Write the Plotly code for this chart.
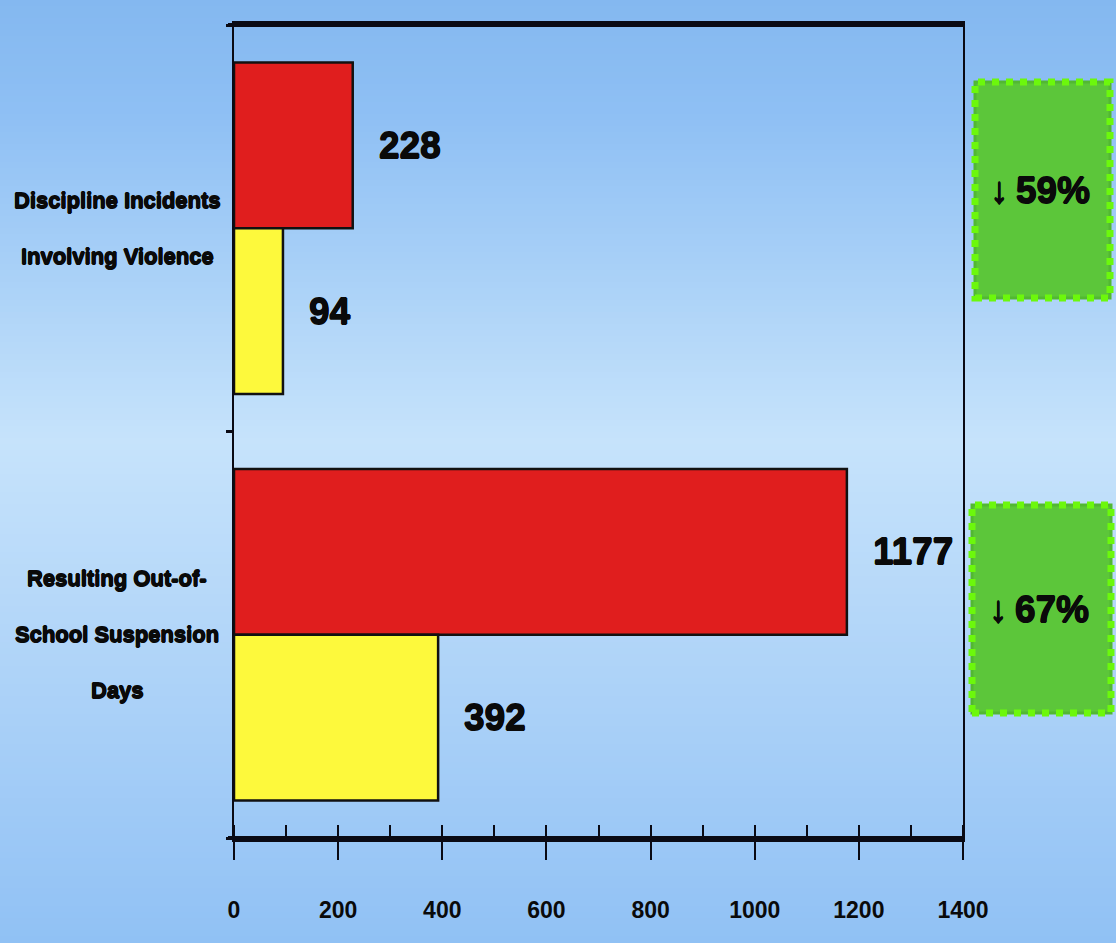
import plotly.graph_objects as go

# ---- data -------------------------------------------------------------
categories = ["Discipline Incidents<br>Involving Violence",
              "Resulting Out-of-<br>School Suspension<br>Days"]
label_lines = [["Discipline Incidents", "Involving Violence"],
               ["Resulting Out-of-", "School Suspension", "Days"]]
before_vals = [228, 1177]
after_vals = [94, 392]
change_labels = ["\u2193\u200959%", "\u2193\u200967%"]
x_tick_vals = [0, 200, 400, 600, 800, 1000, 1200, 1400]

# ---- styling ----------------------------------------------------------
W, H = 1116, 943
L, R, T, B = 234, 153, 25, 105
PW, PH = W - L - R, H - T - B
FONT = "Liberation Sans, Arial, Helvetica, sans-serif"
INK = "#0a0a0a"
AXIS = "#0a0a14"
# a thin outline around the glyphs makes the bold text look heavier
HEAVY = ("0.6px 0 0 #0a0a0a, -0.6px 0 0 #0a0a0a, "
         "0 0.6px 0 #0a0a0a, 0 -0.6px 0 #0a0a0a")
RED, YELLOW = "#e01e1e", "#fdf93c"
BARGAP = 0.185


def px_to_paper_x(px):
    return (px - L) / PW


def px_to_paper_y(py):
    return (H - B - py) / PH


def lerp_color(stops, y):
    for (y0, c0), (y1, c1) in zip(stops, stops[1:]):
        if y0 <= y <= y1:
            t = (y - y0) / (y1 - y0) if y1 > y0 else 0
            return "rgb(%d,%d,%d)" % tuple(round(a + (b - a) * t) for a, b in zip(c0, c1))
    return "rgb(%d,%d,%d)" % stops[-1][1]


def heavy_font(size):
    return dict(family=FONT, size=size, color=INK, shadow=HEAVY)


# vertical background gradient (pixel row -> colour)
bg_stops = [(0, (132, 184, 240)), (120, (143, 192, 244)), (440, (198, 227, 251)),
            (600, (182, 216, 249)), (838, (156, 200, 246)), (943, (144, 193, 244))]

shapes = []
STEP = 6
for y0 in range(0, H, STEP):
    y1 = min(H, y0 + STEP + 1)
    shapes.append(dict(type="rect", xref="paper", yref="paper", layer="below",
                       x0=px_to_paper_x(0), x1=px_to_paper_x(W),
                       y0=px_to_paper_y(y1), y1=px_to_paper_y(y0),
                       line=dict(width=0),
                       fillcolor=lerp_color(bg_stops, y0 + STEP / 2)))

# heavy frame lines along the bottom and top of the plot area
for yy in (0, 1):
    shapes.append(dict(type="line", xref="paper", yref="paper", layer="above",
                       x0=px_to_paper_x(L - 6), x1=1, y0=yy, y1=yy,
                       line=dict(color=AXIS, width=4)))

# green percentage badges to the right of the plot
badges = [(975, 82, 1110, 298), (972, 505, 1111, 713)]
annotations = []
for (bx0, by0, bx1, by1), txt in zip(badges, change_labels):
    box = dict(xref="paper", yref="paper", type="rect",
               x0=px_to_paper_x(bx0), x1=px_to_paper_x(bx1),
               y0=px_to_paper_y(by1), y1=px_to_paper_y(by0))
    shapes.append(dict(box, fillcolor="#5cc63a", line=dict(color="#52b832", width=3)))
    shapes.append(dict(box, fillcolor="rgba(0,0,0,0)",
                       line=dict(color="#6cf80c", width=7, dash="dot")))
    annotations.append(dict(xref="paper", yref="paper",
                            x=px_to_paper_x((bx0 + bx1) / 2 - 3), y=px_to_paper_y((by0 + by1) / 2),
                            xanchor="center", yanchor="middle",
                            text="<b>%s</b>" % txt, showarrow=False,
                            font=heavy_font(37)))

# category labels, one annotation per line for wide line spacing
LINE_GAP = 56
for ci, lines in enumerate(label_lines):
    n = len(lines)
    for li, line in enumerate(lines):
        annotations.append(dict(xref="paper", yref="y", x=px_to_paper_x(117), y=ci,
                                yshift=((n - 1) / 2 - li) * LINE_GAP,
                                text="<b>%s</b>" % line, showarrow=False,
                                xanchor="center", yanchor="middle",
                                font=heavy_font(22)))

# value labels right of each bar end
half = (1 - BARGAP) / 4
for ci in range(len(categories)):
    for val, off in ((before_vals[ci], -half), (after_vals[ci], half)):
        annotations.append(dict(xref="x", yref="y", x=val, y=ci + off,
                                text="<b>%d</b>" % val, showarrow=False,
                                xanchor="left", yanchor="middle", xshift=24,
                                font=heavy_font(37)))

fig = go.Figure()
cat_idx = list(range(len(categories)))
fig.add_trace(go.Bar(name="Before", y=cat_idx, x=before_vals, orientation="h",
                     marker=dict(color=RED, line=dict(color="#111111", width=2.5))))
fig.add_trace(go.Bar(name="After", y=cat_idx, x=after_vals, orientation="h",
                     marker=dict(color=YELLOW, line=dict(color="#111111", width=2.5))))

fig.update_layout(
    width=W, height=H,
    margin=dict(l=L, r=R, t=T, b=B, autoexpand=False),
    barmode="group", bargap=BARGAP, bargroupgap=0,
    showlegend=False,
    paper_bgcolor="#a9d0f7", plot_bgcolor="rgba(0,0,0,0)",
    shapes=shapes, annotations=annotations,
    xaxis=dict(range=[0, 1400], tickvals=x_tick_vals,
               # a blank first line drops each label a little below the ticks
               ticktext=["&nbsp;<br><b>%d</b>" % v for v in x_tick_vals],
               ticks="outside", ticklen=18, tickwidth=2, tickcolor=AXIS,
               minor=dict(dtick=100, ticks="inside", ticklen=13, tickwidth=2,
                          tickcolor=AXIS, showgrid=False),
               showline=True, linewidth=4, linecolor=AXIS, mirror=True,
               showgrid=False, zeroline=False,
               tickfont=dict(family=FONT, size=23, color=INK)),
    xaxis2=dict(overlaying="x", matches="x", side="bottom", range=[0, 1400],
                tickvals=x_tick_vals, ticks="inside", ticklen=13, tickwidth=2,
                tickcolor=AXIS, showticklabels=False, showline=False,
                showgrid=False, zeroline=False),
    yaxis=dict(range=[1.5, -0.5], tickvals=[-0.5, 0.5, 1.5], ticktext=["", "", ""],
               ticks="outside", ticklen=6, tickwidth=3, tickcolor=AXIS,
               showline=True, linewidth=2, linecolor=AXIS, mirror=True,
               showgrid=False, zeroline=False),
)
# invisible trace so the overlay axis is drawn
fig.add_trace(go.Scatter(x=[0], y=[0], xaxis="x2", mode="markers",
                         marker=dict(opacity=0), hoverinfo="skip", showlegend=False))

fig.write_html("out.html")
